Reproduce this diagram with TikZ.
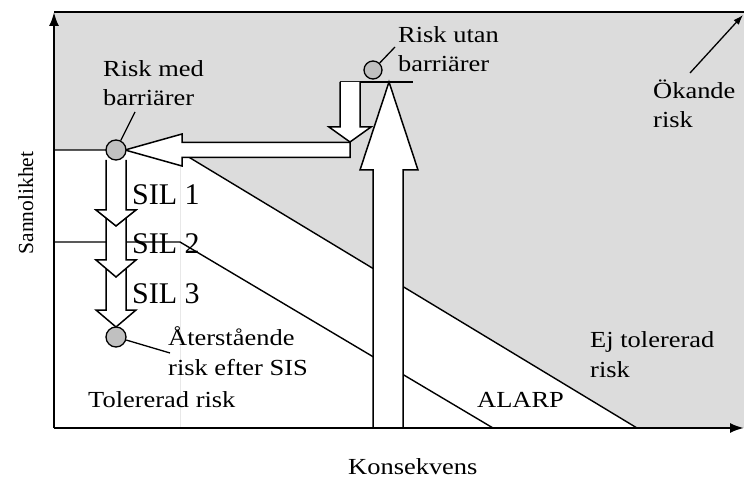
\documentclass[tikz,border=0pt]{standalone}
\usepackage{fontspec}
\setmainfont[FakeStretch=1.15]{Liberation Serif}
\newfontfamily\silfamily{Liberation Serif}
\usetikzlibrary{arrows.meta}
\definecolor{zonegray}{RGB}{220,220,220}
\definecolor{dotgray}{RGB}{192,192,192}
\definecolor{guidegray}{RGB}{232,232,232}
\tikzset{
  lbl/.style={font=\fontsize{23}{29.5}\selectfont, inner sep=0pt, anchor=base west, align=left},
  sil/.style={font=\silfamily\fontsize{30}{36}\selectfont, inner sep=0pt, anchor=base west},
  dot/.style={circle, draw, fill=dotgray, line width=1.3pt, minimum size=20pt, inner sep=0pt},
  axis/.style={line width=2.2pt, -{Latex[length=14pt,width=10pt]}},
  boundary/.style={line width=1.4pt},
  blockarrow/.style={draw, fill=white, line width=1.5pt, line join=miter},
  leader/.style={line width=1.3pt},
}
\begin{document}
\begin{tikzpicture}[x=1pt,y=-1pt]
\useasboundingbox (0,0) rectangle (744,478);
% unacceptable-risk zone
\fill[zonegray] (54,12) -- (744,12) -- (744,428) -- (637,428) -- (177,150) -- (54,150) -- cycle;
\draw[guidegray, line width=0.8pt] (180,152) -- (180,427);
% tolerability boundaries
\draw[boundary] (54,150) -- (177,150) -- (637,428);
\draw[boundary] (54,242) -- (180,242) -- (493,428);
\draw[line width=2pt] (54,12) -- (744,12);

% risk without barriers
\draw[blockarrow] (373,428) -- (373,170) -- (360,170) -- (389,82) -- (418,170) -- (403,170) -- (403,428);
\draw[line width=1.4pt] (340,82) -- (413,82);
\draw[blockarrow] (350,142.5) -- (182,142.5) -- (182,134) -- (125,150) -- (182,166) -- (182,157.5) -- (350,157.5) -- cycle;
\draw[blockarrow] (340,82) -- (340,127) -- (329,127) -- (350,142) -- (371,127) -- (360,127) -- (360,82);

% SIL steps
\draw[blockarrow] (106,260) -- (106,310) -- (96,310) -- (116,327) -- (136,310) -- (126,310) -- (126,260);
\draw[blockarrow] (106,210) -- (106,260) -- (96,260) -- (116,277) -- (136,260) -- (126,260) -- (126,210);
\draw[blockarrow] (106,160) -- (106,210) -- (96,210) -- (116,226) -- (136,210) -- (126,210) -- (126,160);

% axes
\coordinate (origin) at (54,428);
\coordinate (ytop) at (54,12);
\coordinate (xend) at (744,428);
\draw[axis] (origin) -- (ytop);
\draw[axis] (origin) -- (xend);

% risk points
\node[dot] (cmed) at (116,150) {};
\node[dot, minimum size=18pt] (cutan) at (373,70) {};
\node[dot] (crest) at (116,337) {};

% leaders
\coordinate (lmed) at (135,112);
\coordinate (lutan) at (395,47);
\coordinate (lrest) at (170,353);
\draw[leader] (cmed) -- (lmed);
\draw[leader] (cutan) -- (lutan);
\draw[leader] (crest) -- (lrest);
\coordinate (okfoot) at (690,73);
\coordinate (oktip) at (743,15);
\draw[leader, -{Latex[length=10pt,width=7pt]}] (okfoot) -- (oktip);

% labels (multi-line labels are placed by the baseline of their last line)
\node[lbl] (tmed) at (103,106) {Risk med\\barriärer};
\node[lbl] (tutan) at (398,72) {Risk utan\\barriärer};
\node[lbl] (tok) at (653,128) {Ökande\\risk};
\node[lbl] (trest) at (168,375) {Återstående\\risk efter SIS};
\node[lbl] (tej) at (590,377) {Ej tolererad\\risk};
\node[lbl] (ttol) at (88,407) {Tolererad risk};
\node[lbl] (talarp) at (477,407) {ALARP};
\node[lbl] (tkons) at (348,474) {Konsekvens};
\node[font=\silfamily\fontsize{21.5}{26}\selectfont, inner sep=0pt, anchor=base, rotate=90] (tsann) at (33,203) {Sannolikhet};
\node[sil] (sil1) at (132,205) {SIL 1};
\node[sil] (sil2) at (132,254) {SIL 2};
\node[sil] (sil3) at (132,303) {SIL 3};
\end{tikzpicture}
\end{document}
